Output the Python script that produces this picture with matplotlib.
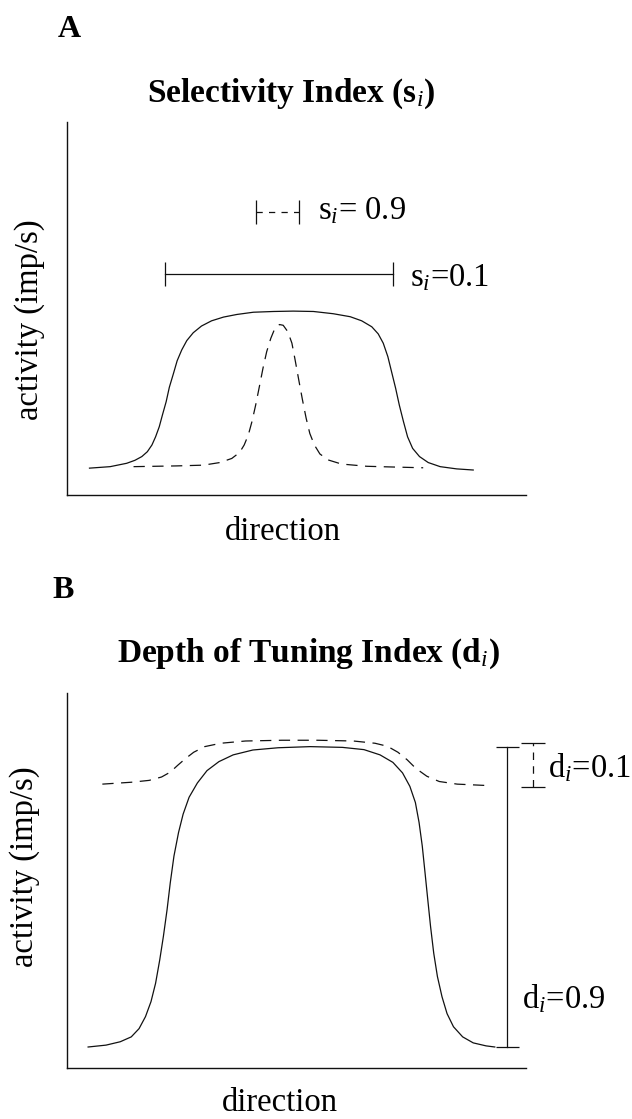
import matplotlib.pyplot as plt

plt.rcParams['font.family'] = ['Liberation Serif', 'DejaVu Serif']
plt.rcParams['mathtext.fontset'] = 'custom'
plt.rcParams['mathtext.rm'] = 'Liberation Serif'
plt.rcParams['mathtext.it'] = 'Liberation Serif:italic'
plt.rcParams['mathtext.bf'] = 'Liberation Serif:bold'

# --- Panel A: broadly tuned cell (solid) vs sharply tuned cell (dashed) ---
dir_a_broad = [4.9, 9.4, 13.0, 14.8, 16.3, 17.5, 18.5, 19.3, 20.1, 20.8, 21.6, 22.3,
               23.2, 24.0, 25.0, 26.1, 27.5, 29.3, 31.5, 34.1, 37.0, 40.6, 45.0, 49.3,
               53.7, 58.0, 61.7, 64.2, 66.4, 67.8, 68.9, 69.9, 70.7, 71.6, 72.4, 73.3,
               74.2, 75.3, 76.8, 78.7, 81.3, 84.9, 88.5]
act_a_broad = [7.2, 7.6, 8.5, 9.3, 10.3, 11.6, 13.4, 15.6, 18.3, 21.5, 25.0, 28.9,
               32.6, 36.0, 38.9, 41.4, 43.5, 45.3, 46.7, 47.7, 48.4, 49.0, 49.2, 49.3,
               49.2, 48.6, 47.8, 46.7, 45.1, 43.2, 40.7, 37.1, 33.1, 28.6, 24.1, 19.7,
               15.6, 12.5, 10.3, 8.7, 7.6, 7.0, 6.7]

dir_a_sharp = [14.5, 23.9, 29.7, 33.3, 35.9, 37.6, 38.6, 39.5, 40.3, 41.1, 41.9, 42.7,
               43.5, 44.4, 45.3, 46.3, 47.1, 48.1, 49.0, 49.7, 50.5, 51.3, 52.1, 52.9,
               53.9, 55.1, 56.9, 59.8, 65.3, 71.1, 77.6]
act_a_sharp = [7.6, 7.8, 8.0, 8.7, 9.8, 11.4, 13.4, 16.1, 19.7, 24.1, 29.0, 34.0,
               38.4, 42.0, 44.7, 45.7, 45.5, 43.8, 40.7, 36.2, 30.8, 25.5, 20.6, 16.5,
               13.4, 11.0, 9.4, 8.3, 7.7, 7.5, 7.3]

# tuning width at half height: (left, right, level)
width_broad = (21.4, 71.0, 59.2)
width_sharp = (41.2, 50.5, 75.9)
si_labels = [r's$_i$=0.1', r's$_i$= 0.9']

# --- Panel B: deep modulation (solid) vs shallow modulation (dashed) ---
dir_b_deep = [4.6, 8.5, 11.6, 14.0, 15.7, 17.1, 18.3, 19.3, 20.2, 21.0, 21.8, 22.5,
              23.3, 24.3, 25.3, 26.6, 28.4, 30.5, 33.1, 36.2, 40.5, 46.0, 53.0, 60.0,
              64.7, 68.2, 71.0, 73.1, 74.7, 75.9, 76.7, 77.4, 78.0, 78.6, 79.2, 79.9,
              80.7, 81.7, 82.8, 84.2, 86.2, 88.5, 91.3, 93.2]
act_b_deep = [5.6, 6.1, 7.0, 8.3, 10.5, 13.7, 17.7, 22.6, 28.8, 35.1, 42.2, 49.4,
              56.5, 62.8, 67.7, 72.2, 76.0, 79.3, 81.7, 83.5, 84.8, 85.4, 85.7, 85.5,
              84.9, 83.5, 81.5, 78.7, 75.1, 70.8, 65.5, 59.2, 52.1, 44.9, 37.8, 30.6,
              24.4, 19.0, 14.5, 11.0, 8.3, 6.7, 5.9, 5.6]

dir_b_shallow = [7.7, 14.0, 17.9, 20.6, 22.5, 24.1, 25.7, 27.6, 30.0, 33.5, 38.9, 46.8,
                 54.6, 62.4, 67.1, 69.8, 72.1, 74.1, 76.0, 78.4, 81.1, 85.0, 92.0]
act_b_shallow = [75.7, 76.2, 76.7, 77.6, 78.9, 80.7, 82.4, 84.2, 85.7, 86.6, 87.2, 87.4,
                 87.4, 87.2, 86.6, 85.8, 84.2, 82.2, 79.9, 77.8, 76.4, 75.7, 75.3]

# modulation depth: (x position, bottom, top)
depth_deep = (95.9, 5.6, 85.5)
depth_shallow = (101.5, 74.9, 86.6)
di_labels = [r'd$_i$=0.9', r'd$_i$=0.1']

W, H = 632, 1119
fig = plt.figure(figsize=(W / 100, H / 100), dpi=100)


def box(x0, y0, x1, y1):
    # pixel box (top-left origin) -> figure fraction rect
    return [x0 / W, 1 - y1 / H, (x1 - x0) / W, (y1 - y0) / H]


ink = '#111111'
lw = 0.9
dash = (9, 6)
fs = 23.5

axA = fig.add_axes(box(67, 122, 526, 495))
axB = fig.add_axes(box(67, 693, 526, 1068))
for ax in (axA, axB):
    ax.set_xlim(0, 100)
    ax.set_ylim(0, 100)
    ax.set_xticks([])
    ax.set_yticks([])
    ax.spines['top'].set_visible(False)
    ax.spines['right'].set_visible(False)
    for s in ('left', 'bottom'):
        ax.spines[s].set_linewidth(1.0)
        ax.spines[s].set_color(ink)

# A curves
axA.plot(dir_a_broad, act_a_broad, color=ink, lw=lw)
axA.plot(dir_a_sharp, act_a_sharp, color=ink, lw=lw, linestyle='--', dashes=dash)

# A width bars
x0, x1, y = width_broad
axA.plot([x0, x1], [y, y], color=ink, lw=lw)
axA.vlines([x0, x1], y - 3.3, y + 3.3, color=ink, lw=lw)
x0, x1, y = width_sharp
axA.plot([x0, x1], [y, y], color=ink, lw=lw, linestyle='--', dashes=(5, 5))
axA.vlines([x0, x1], y - 3.2, y + 3.2, color=ink, lw=lw)

axA.text(74.7, 56.0, si_labels[0], fontsize=fs, va='baseline', ha='left')
axA.text(54.7, 73.9, si_labels[1], fontsize=fs, va='baseline', ha='left')

# B curves
axB.plot(dir_b_deep, act_b_deep, color=ink, lw=lw)
axB.plot(dir_b_shallow, act_b_shallow, color=ink, lw=lw, linestyle='--', dashes=dash)

# B depth bars
x, lo, hi = depth_deep
axB.plot([x, x], [lo, hi], color=ink, lw=lw, clip_on=False)
axB.hlines([lo, hi], x - 2.5, x + 2.5, color=ink, lw=lw, clip_on=False)
x, lo, hi = depth_shallow
axB.plot([x, x], [lo, hi], color=ink, lw=lw, linestyle='--', dashes=(6, 5), clip_on=False)
axB.hlines([lo, hi], x - 2.6, x + 2.6, color=ink, lw=lw, clip_on=False)

axB.text(99.1, 16.0, di_labels[0], fontsize=fs, va='baseline', ha='left', clip_on=False)
axB.text(104.8, 77.5, di_labels[1], fontsize=fs, va='baseline', ha='left', clip_on=False)

# panel letters, titles and axis labels
fig.text(58 / W, 1 - 37 / H, 'A', fontsize=23, fontweight='bold', va='baseline')
fig.text(52 / W, 1 - 598 / H, 'B', fontsize=23, fontweight='bold', va='baseline')
fig.text(147 / W, 1 - 102 / H, r'Selectivity Index (s$_i$)', fontsize=24,
         fontweight='bold', va='baseline')
fig.text(117 / W, 1 - 662 / H, r'Depth of Tuning Index (d$_i$)', fontsize=24,
         fontweight='bold', va='baseline')

fig.text(225 / W, 1 - 540 / H, 'direction', fontsize=fs, va='baseline')
fig.text(222 / W, 1 - 1111 / H, 'direction', fontsize=fs, va='baseline')
fig.text(30 / W, 1 - 320 / H, 'activity (imp/s)', fontsize=fs, rotation=90,
         ha='center', va='center')
fig.text(25 / W, 1 - 867 / H, 'activity (imp/s)', fontsize=fs, rotation=90,
         ha='center', va='center')

fig.savefig('out.png', dpi=100, facecolor='white')
